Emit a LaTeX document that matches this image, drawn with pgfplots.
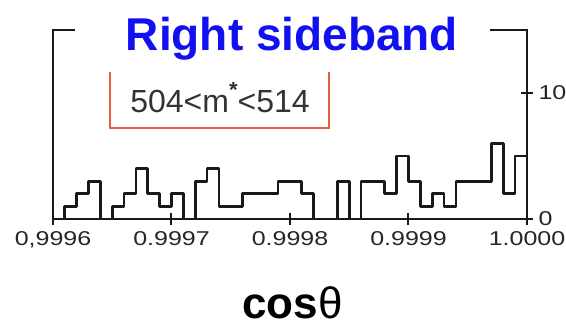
\documentclass[border=0pt]{standalone}
\usepackage{fontspec}
\setmainfont{Liberation Sans}
\newfontfamily\widefont[FakeStretch=1.25]{Liberation Sans}
\usepackage{pgfplots}
\pgfplotsset{compat=1.18}
\definecolor{boxred}{RGB}{228,96,64}
\definecolor{titleblue}{RGB}{16,16,240}
\begin{document}
\begin{tikzpicture}
\begin{axis}[
  at={(0,0)}, anchor=south west,
  width=474pt, height=189pt, scale only axis,
  xmin=0, xmax=40, ymin=0, ymax=15,
  xtick={0,10,20,30,40},
  xticklabels={{0,9996},0.9997,0.9998,0.9999,1.0000},
  ytick={0,10}, yticklabels={0,10},
  xtick pos=bottom, ytick pos=right, yticklabel pos=right,
  tick align=center, major tick length=12pt,
  axis line style={line width=2pt, black!90},
  tick style={line width=2pt, black!90},
  xticklabel style={font=\widefont\fontsize{20}{20}\selectfont, text=black!85, yshift=-3pt},
  yticklabel style={font=\widefont\fontsize{20}{20}\selectfont, text=black!85, xshift=2pt},
  clip=false,
]
\addplot[const plot, line width=2.7pt, black!90, line join=round] coordinates {
(0,0) (1,1) (2,2) (3,3) (4,0) (5,1) (6,2) (7,4) (8,2) (9,1)
(10,2) (11,0) (12,3) (13,4) (14,1) (15,1) (16,2) (17,2) (18,2) (19,3)
(20,3) (21,2) (22,0) (23,0) (24,3) (25,0) (26,3) (27,3) (28,2) (29,5)
(30,3) (31,1) (32,2) (33,1) (34,3) (35,3) (36,3) (37,6) (38,2) (39,5) (40,5)
};
\end{axis}
% inner label box (red, open at top)
\draw[boxred, line width=1.6pt] (57pt,147pt) -- (57pt,91pt) -- (276pt,91pt) -- (276pt,147pt);
\node[anchor=base, text=black!80, font=\fontsize{32}{32}\selectfont] at (167pt,107pt) {504<m\raisebox{0.45em}{\fontsize{22}{22}\selectfont\textbf{*}}<514};
% title with white background covering the top frame
\fill[white] (22pt,150pt) rectangle (437pt,219pt);
\node[anchor=base, text=titleblue, font=\bfseries\fontsize{46}{46}\selectfont] at (239pt,169pt) {Right sideband};
% x-axis label
\node[anchor=base west, inner sep=0pt, font=\fontsize{44}{44}\selectfont] at (189pt,-99pt) {\textbf{cos}θ};
\pgfresetboundingbox
\path[use as bounding box] (-53pt,-106pt) rectangle (513pt,219pt);
\end{tikzpicture}
\end{document}
